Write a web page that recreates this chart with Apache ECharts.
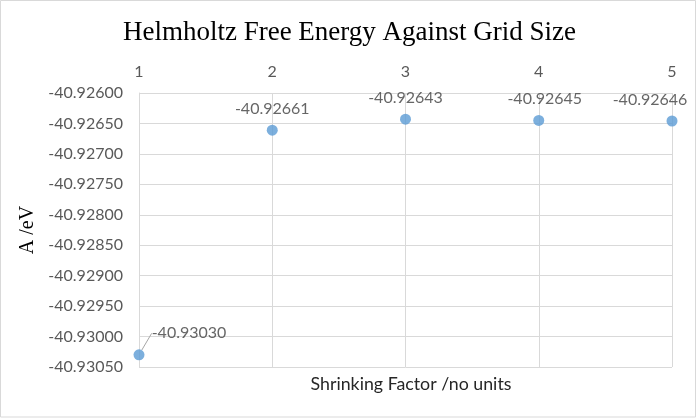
<!DOCTYPE html>
<html>
<head>
<meta charset="utf-8">
<script src="https://cdn.jsdelivr.net/npm/echarts@6/dist/echarts.min.js"></script>
<style>html,body{margin:0;padding:0;background:#fff;}#c{width:699px;height:418px;}</style>
</head>
<body>
<div id="c"></div>
<script>
var shrinkingFactors = [1, 2, 3, 4, 5];
var energies = [-40.93030, -40.92661, -40.92643, -40.92645, -40.92646];
var yMin = -40.9305, yMax = -40.9260, yStep = 0.0005;
var titleText = 'Helmholtz Free Energy Against Grid Size';
var xName = 'Shrinking Factor /no units';
var yName = 'A /eV';

var chart = echarts.init(document.getElementById('c'), null, {renderer: 'canvas'});
var pts = shrinkingFactors.map(function (x, i) { return [x, energies[i]]; });
chart.setOption({
  animation: false,
  backgroundColor: '#fff',
  graphic: [{
    type: 'rect', shape: {x: 0.5, y: 0.5, width: 695, height: 416.5},
    style: {fill: 'none', stroke: '#d9d9d9', lineWidth: 1}, silent: true, z: -1
  }],
  title: [{
    text: titleText, left: 'center', top: 14,
    textStyle: {fontFamily: 'Liberation Serif', fontSize: 27, fontWeight: 'normal', color: '#000'}
  }, {
    text: xName, left: 406, top: 370, textAlign: 'center',
    textStyle: {fontFamily: 'Lato', fontSize: 17.8, fontWeight: 'normal', color: '#262626'}
  }],
  grid: {left: 139, right: 27, top: 93, bottom: 51, containLabel: false},
  xAxis: {
    type: 'value', position: 'top', min: 1, max: 5, interval: 1,
    axisLine: {show: false}, axisTick: {show: false},
    axisLabel: {color: '#595959', fontFamily: 'Lato', fontSize: 16, margin: 13},
    splitLine: {show: true, lineStyle: {color: '#d9d9d9', width: 1}}
  },
  yAxis: {
    type: 'value', min: yMin, max: yMax, interval: yStep,
    name: yName, nameLocation: 'middle', nameGap: 94, nameRotate: 90,
    nameTextStyle: {fontFamily: 'Liberation Serif', fontSize: 20, color: '#000'},
    axisLine: {show: true, lineStyle: {color: '#d9d9d9'}}, axisTick: {show: false},
    axisLabel: {color: '#595959', fontFamily: 'Lato', fontSize: 16, margin: 16,
      formatter: function (v) { return v.toFixed(5); }},
    splitLine: {show: true, lineStyle: {color: '#d9d9d9', width: 1}}
  },
  series: [{
    type: 'scatter', symbol: 'circle', symbolSize: 11,
    itemStyle: {color: '#5B9BD5'},
    data: pts.map(function (p, i) {
      var d = {value: p};
      if (i === 0) { d.labelLine = {show: true, lineStyle: {color: '#a6a6a6', width: 1}}; }
      return d;
    }),
    label: {show: true, position: 'top', distance: 8, color: '#404040', fontFamily: 'Lato', fontSize: 16,
      formatter: function (p) { return p.value[1].toFixed(5); }},
    labelLine: {show: false},
    labelLayout: function (params) {
      if (params.dataIndex === 0) { return {dx: 50, dy: 0}; }
      if (params.dataIndex === 3) { return {dx: 6, dy: 0}; }
      if (params.dataIndex === 4) { return {dx: -22, dy: 0}; }
      return {};
    }
  }]
});
</script>
</body>
</html>
